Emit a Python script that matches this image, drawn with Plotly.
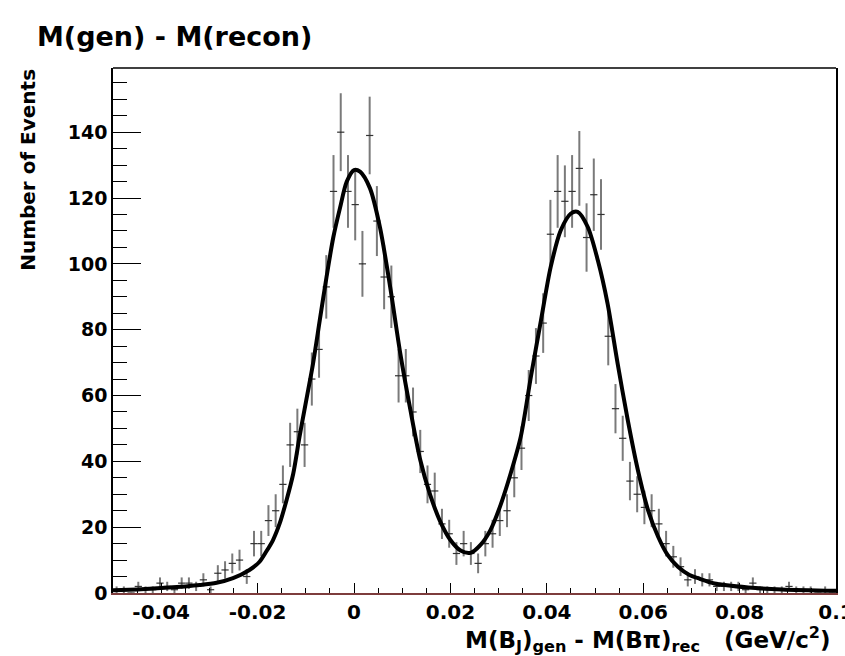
import numpy as np
import plotly.graph_objects as go

# ---- histogram data (100 bins, -0.05 .. 0.1) ----
x_min, x_max, n_bins = -0.05, 0.1, 100
counts = [1, 1, 0, 2, 1, 1, 3, 2, 1, 3,
          3, 2, 4, 1, 6, 7, 9, 10, 5, 15,
          15, 22, 25, 33, 45, 49, 45, 65, 74, 93,
          122, 140, 122, 118, 100, 139, 113, 96, 90, 66,
          66, 55, 43, 33, 31, 21, 18, 12, 15, 12,
          9, 15, 18, 22, 25, 35, 44, 60, 72, 82,
          109, 122, 119, 122, 129, 108, 121, 115, 78, 56,
          47, 34, 30, 26, 25, 21, 15, 11, 8, 4,
          5, 4, 4, 2, 2, 2, 2, 1, 3, 1,
          1, 1, 1, 2, 1, 1, 1, 0, 1, 0]

# ---- fit curve ----
fit_x = [-0.05, -0.045, -0.04, -0.035, -0.032, -0.0285, -0.0251, -0.0217, -0.0196, -0.0182,
         -0.0168, -0.0154, -0.014, -0.0126, -0.0113, -0.0099, -0.0085, -0.0071, -0.0057, -0.0043,
         -0.0029, -0.0015, 0.0, 0.00125, 0.0033, 0.0054, 0.0075, 0.0096, 0.0117, 0.01375,
         0.0158, 0.0179, 0.02, 0.0221, 0.0242, 0.02625, 0.0283, 0.0304, 0.0325, 0.0346,
         0.0367, 0.0388, 0.0408, 0.0429, 0.045, 0.0464, 0.0485, 0.0506, 0.0526, 0.0547,
         0.0568, 0.0589, 0.061, 0.0631, 0.0651, 0.0672, 0.0696, 0.0714, 0.0748, 0.0818,
         0.0888, 0.1]
fit_y = [0.8, 1.1, 1.5, 2.0, 2.4, 3.1, 4.5, 7.0, 9.5, 12.6,
         16.1, 21.2, 28.2, 36.3, 47.5, 58.6, 69.7, 82.9, 96.0, 108.0,
         117.0, 125.0, 128.5, 128.0, 123.0, 111.0, 93.0, 72.8, 55.6, 40.4,
         29.8, 21.7, 16.1, 12.9, 12.2, 14.6, 19.1, 26.7, 36.3, 47.5,
         65.7, 82.9, 99.0, 110.2, 115.3, 115.8, 111.2, 101.0, 88.0, 69.7,
         52.5, 37.3, 25.2, 17.1, 11.5, 8.0, 5.5, 4.5, 2.9, 1.7,
         1.1, 0.7]

x_tickvals = [-0.04, -0.02, 0, 0.02, 0.04, 0.06, 0.08, 0.1]
x_ticktext = ["-0.04", "-0.02", "0", "0.02", "0.04", "0.06", "0.08", "0.1"]
y_tickvals = [0, 20, 40, 60, 80, 100, 120, 140]
y_ticktext = ["0", "20", "40", "60", "80", "100", "120", "140"]

title_text = "M(gen) - M(recon)"
y_title = "Number of Events"
x_title = "M(B<sub>J</sub>)<sub>gen</sub> - M(B\u03c0)<sub>rec</sub>   (GeV/c<sup>2</sup>)"

bw = (x_max - x_min) / n_bins
centers = [x_min + bw * (i + 0.5) for i in range(n_bins)]
errs = [float(np.sqrt(c)) for c in counts]

FONT = "DejaVu Sans"

fig = go.Figure()
fig.add_trace(go.Scatter(
    x=centers, y=counts, mode="markers",
    marker=dict(size=1, color="#333"),
    error_y=dict(type="data", array=errs, visible=True, color="#7a7a7a", thickness=2, width=0),
    error_x=dict(type="data", array=[bw / 2] * n_bins, visible=True, color="#333", thickness=1.2, width=0),
    showlegend=False, hoverinfo="skip"))
fig.add_trace(go.Scatter(
    x=fit_x, y=fit_y, mode="lines", line=dict(color="black", width=4, shape="spline", smoothing=0.8),
    showlegend=False, hoverinfo="skip"))

fig.update_layout(
    width=845, height=656,
    margin=dict(l=113, r=9, t=68, b=63, autoexpand=False),
    paper_bgcolor="white", plot_bgcolor="white",
    font=dict(family=FONT, color="black"),
)
fig.update_xaxes(
    range=[x_min, x_max + 1e-7], showgrid=False, zeroline=False, automargin=False,
    showline=True, linecolor="#7d3c3c", linewidth=1.5, mirror=False,
    ticks="inside", ticklen=10, tickwidth=1, tickcolor="black",
    tickvals=x_tickvals, ticktext=x_ticktext, ticklabeloverflow="allow",
    tickfont=dict(family=FONT, size=20, weight="bold", color="black"),
    minor=dict(dtick=0.005, tick0=0, ticks="inside", ticklen=5, tickcolor="black", showgrid=False),
)
fig.update_yaxes(
    range=[0, 159.5], showgrid=False, zeroline=False, automargin=False,
    showline=True, linecolor="black", linewidth=1.5, mirror=True,
    ticks="inside", ticklen=28, tickwidth=1, tickcolor="black",
    tickvals=y_tickvals, ticktext=y_ticktext,
    tickfont=dict(family=FONT, size=19, weight="bold", color="black"),
    minor=dict(dtick=5, tick0=0, ticks="inside", ticklen=14, tickcolor="black", showgrid=False),
)
fig.add_shape(type="line", xref="paper", yref="paper", x0=0, x1=1, y0=1, y1=1,
              line=dict(color="black", width=1.5))

fig.add_annotation(text="<b>" + title_text + "</b>", xref="paper", yref="paper",
                   x=-0.108, y=1.06, xanchor="left", yanchor="middle", showarrow=False,
                   font=dict(family=FONT, size=27, color="black"))
fig.add_annotation(text="<b>" + y_title + "</b>", xref="paper", yref="paper",
                   x=-0.1176, y=0.806, xanchor="center", yanchor="middle", textangle=-90,
                   showarrow=False, font=dict(family=FONT, size=20, color="black"))
fig.add_annotation(text="<b>" + x_title + "</b>", xref="paper", yref="paper",
                   x=0.996, y=-0.088, xanchor="right", yanchor="middle",
                   showarrow=False, font=dict(family=FONT, size=23, color="black"))

fig.write_html("out.html")
